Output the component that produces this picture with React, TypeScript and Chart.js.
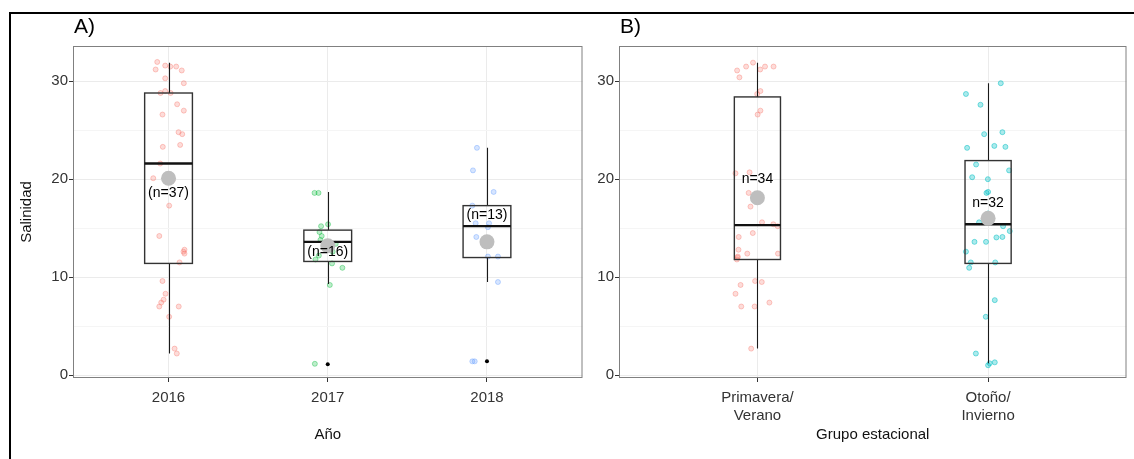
import { useEffect, useRef } from "react";
import { Chart, registerables } from "chart.js";

Chart.register(...registerables);

// ---- Año (panel A) ----
const yearCategories = ["2016", "2017", "2018"];

const salinity2016 = [31.97, 31.2, 31.6, 31.5, 31.5, 31.1, 30.3, 29.8, 28.8, 29.0, 28.8, 27.65, 27.0, 26.6, 24.8, 24.6, 23.3, 23.5, 21.6, 20.1, 17.3, 14.2, 12.8, 12.4, 11.5, 9.6, 8.3, 7.7, 7.4, 7.0, 7.0, 5.95, 2.7, 2.2, 20.3, 19.9, 12.6];
const jitter2016 = [-0.071, -0.081, -0.021, 0.011, 0.048, 0.083, -0.021, 0.096, -0.05, -0.021, 0.013, 0.054, 0.096, -0.038, 0.063, 0.086, -0.036, 0.073, -0.052, -0.096, 0.004, -0.058, 0.1, 0.1, 0.069, -0.038, -0.019, -0.031, -0.046, -0.058, 0.064, 0.004, 0.038, 0.052, 0.006, 0.025, 0.094];

const salinity2017 = [18.6, 18.6, 15.4, 15.2, 14.6, 14.2, 13.8, 11.8, 11.4, 10.95, 9.2, 1.15, 13.0, 12.6, 12.2, 13.4];
const jitter2017 = [-0.083, -0.058, 0.002, -0.042, -0.052, -0.038, -0.046, -0.077, 0.027, 0.092, 0.013, -0.081, -0.019, 0.031, -0.056, 0.05];

const salinity2018 = [23.2, 20.9, 18.7, 17.3, 15.5, 15.5, 15.1, 14.1, 12.1, 12.1, 9.5, 1.4, 1.4];
const jitter2018 = [-0.063, -0.088, 0.042, -0.092, -0.071, 0.013, 0.006, -0.067, 0.006, 0.069, 0.069, -0.092, -0.077];

const yearLow = [2.2, 9.3, 9.5];
const yearQ1 = [11.4, 11.6, 12.0];
const yearMedian = [21.6, 13.6, 15.2];
const yearQ3 = [28.8, 14.8, 17.3];
const yearHigh = [31.9, 18.7, 23.2];
const yearMean = [20.1, 13.2, 13.6];
const yearOutliers = [[], [1.1], [1.4]];
const yearCountLabels = ["(n=37)", "(n=16)", "(n=13)"];
const yearCountAt = [18.6, 12.55, 16.3];

// ---- Grupo estacional (panel B) ----
const seasonCategories = [["Primavera/", "Verano"], ["Otoño/", "Invierno"]];

const salinitySpring = [31.1, 31.5, 31.9, 31.2, 31.5, 31.5, 30.4, 28.7, 29.0, 27.0, 26.6, 20.6, 20.7, 18.6, 17.2, 15.6, 15.4, 15.2, 14.1, 14.5, 12.8, 12.4, 12.4, 12.1, 11.8, 9.6, 9.5, 9.2, 8.3, 7.0, 7.0, 7.4, 2.7, 12.0];
const jitterSpring = [-0.088, -0.049, -0.019, 0.012, 0.033, 0.07, -0.078, -0.001, 0.013, 0.013, 0.001, -0.095, -0.034, -0.038, -0.03, 0.02, 0.069, 0.088, -0.081, -0.02, -0.082, -0.044, 0.089, -0.085, -0.089, -0.01, 0.019, -0.073, -0.095, -0.07, -0.012, 0.052, -0.027, -0.086];

const salinityAutumn = [29.8, 28.7, 27.6, 24.8, 24.6, 23.2, 23.4, 23.3, 21.5, 20.9, 20.2, 20.0, 18.6, 18.7, 15.6, 15.2, 14.7, 14.05, 14.1, 13.6, 13.6, 12.6, 11.5, 10.95, 11.5, 7.65, 5.95, 2.2, 1.2, 1.3, 1.0, 16.5];
const jitterAutumn = [0.055, -0.096, -0.033, 0.062, -0.017, -0.091, 0.027, 0.075, -0.052, 0.091, -0.069, -0.001, -0.007, 0, -0.039, 0.065, 0.094, 0.036, 0.062, -0.059, -0.009, -0.096, -0.075, -0.082, 0.031, 0.029, -0.01, -0.053, 0.007, 0.029, 0, 0];

const seasonLow = [2.7, 1.2];
const seasonQ1 = [11.8, 11.4];
const seasonMedian = [15.3, 15.4];
const seasonQ3 = [28.4, 21.9];
const seasonHigh = [31.9, 29.8];
const seasonMean = [18.1, 16.0];
const seasonOutliers = [[], []];
const seasonCountLabels = ["n=34", "n=32"];
const seasonCountAt = [20.0, 17.6];

const yTicks = [0, 5, 10, 15, 20, 25, 30];

const FONT = "'Liberation Sans', Arial, Helvetica, sans-serif";

type Group = { values: number[]; jitter: number[]; color: string; fill: string };

type Panel = {
  letter: string;
  xTitle: string;
  categories: (string | string[])[];
  groups: Group[];
  low: number[];
  q1: number[];
  median: number[];
  q3: number[];
  high: number[];
  mean: number[];
  outliers: number[][];
  countLabels: string[];
  countAt: number[];
  boxWidth: number;
  yAxisWidth: number;
  showYTitle: boolean;
  width: number;
  plotRight: number;
};

const panelA: Panel = {
  letter: "A)",
  xTitle: "Año",
  categories: yearCategories,
  groups: [
    { values: salinity2016, jitter: jitter2016, color: "rgba(248,118,109,0.38)", fill: "rgba(248,118,109,0.26)" },
    { values: salinity2017, jitter: jitter2017, color: "rgba(0,186,56,0.38)", fill: "rgba(0,186,56,0.26)" },
    { values: salinity2018, jitter: jitter2018, color: "rgba(97,156,255,0.38)", fill: "rgba(97,156,255,0.26)" },
  ],
  low: yearLow,
  q1: yearQ1,
  median: yearMedian,
  q3: yearQ3,
  high: yearHigh,
  mean: yearMean,
  outliers: yearOutliers,
  countLabels: yearCountLabels,
  countAt: yearCountAt,
  boxWidth: 0.3,
  yAxisWidth: 73,
  showYTitle: true,
  width: 590,
  plotRight: 585,
};

const panelB: Panel = {
  letter: "B)",
  xTitle: "Grupo estacional",
  categories: seasonCategories,
  groups: [
    { values: salinitySpring, jitter: jitterSpring, color: "rgba(248,118,109,0.38)", fill: "rgba(248,118,109,0.26)" },
    { values: salinityAutumn, jitter: jitterAutumn, color: "rgba(0,191,196,0.5)", fill: "rgba(0,191,196,0.33)" },
  ],
  low: seasonLow,
  q1: seasonQ1,
  median: seasonMedian,
  q3: seasonQ3,
  high: seasonHigh,
  mean: seasonMean,
  outliers: seasonOutliers,
  countLabels: seasonCountLabels,
  countAt: seasonCountAt,
  boxWidth: 0.2,
  yAxisWidth: 29,
  showYTitle: false,
  width: 544,
  plotRight: 539,
};

const HEIGHT = 459;
const PLOT_TOP = 46;
const PLOT_BOTTOM = 378;

function buildChart(canvas: HTMLCanvasElement, p: Panel) {
  const jitterPoints: { x: number; y: number }[] = [];
  const pointBorder: string[] = [];
  const pointFill: string[] = [];
  p.groups.forEach((g, i) => {
    g.values.forEach((v, j) => {
      jitterPoints.push({ x: i + 1 + g.jitter[j], y: v });
      pointBorder.push(g.color);
      pointFill.push(g.fill);
    });
  });
  const meanPoints = p.mean.map((m, i) => ({ x: i + 1, y: m }));
  const outlierPoints: { x: number; y: number }[] = [];
  p.outliers.forEach((list, i) => list.forEach((v) => outlierPoints.push({ x: i + 1, y: v })));

  const boxPlugin = {
    id: "boxes",
    beforeDatasetsDraw(chart: any) {
      const { ctx, chartArea } = chart;
      ctx.save();
      ctx.strokeStyle = "#808080";
      ctx.lineWidth = 1;
      ctx.strokeRect(chartArea.left + 0.5, chartArea.top + 0.5, chartArea.right - chartArea.left - 1, chartArea.bottom - chartArea.top - 1);
      ctx.restore();
    },
    afterDatasetDraw(chart: any, args: any) {
      if (args.index !== 0) return;
      const { ctx } = chart;
      const xs = chart.scales.x;
      const ys = chart.scales.y;
      ctx.save();
      p.mean.forEach((_, i) => {
        const cx = Math.round(xs.getPixelForValue(i + 1)) + 0.5;
        const x0 = xs.getPixelForValue(i + 1 - p.boxWidth / 2);
        const x1 = xs.getPixelForValue(i + 1 + p.boxWidth / 2);
        const yLow = ys.getPixelForValue(p.low[i]);
        const yQ1 = ys.getPixelForValue(p.q1[i]);
        const yMed = ys.getPixelForValue(p.median[i]);
        const yQ3 = ys.getPixelForValue(p.q3[i]);
        const yHigh = ys.getPixelForValue(p.high[i]);
        ctx.strokeStyle = "#1a1a1a";
        ctx.lineWidth = 1.1;
        ctx.beginPath();
        ctx.moveTo(cx, yQ3);
        ctx.lineTo(cx, yHigh);
        ctx.moveTo(cx, yQ1);
        ctx.lineTo(cx, yLow);
        ctx.stroke();
        ctx.strokeStyle = "#333333";
        ctx.lineWidth = 1.4;
        ctx.strokeRect(x0, yQ3, x1 - x0, yQ1 - yQ3);
        ctx.strokeStyle = "#111111";
        ctx.lineWidth = 2.3;
        ctx.beginPath();
        ctx.moveTo(x0, yMed);
        ctx.lineTo(x1, yMed);
        ctx.stroke();
      });
      ctx.restore();
    },
    afterDatasetsDraw(chart: any) {
      const { ctx, chartArea } = chart;
      const xs = chart.scales.x;
      const ys = chart.scales.y;
      ctx.save();
      ctx.fillStyle = "#000";
      ctx.font = `14px ${FONT}`;
      ctx.textAlign = "center";
      ctx.textBaseline = "middle";
      p.countLabels.forEach((t, i) => {
        ctx.fillText(t, xs.getPixelForValue(i + 1), ys.getPixelForValue(p.countAt[i]));
      });
      // axis titles and panel letter
      ctx.font = `15px ${FONT}`;
      ctx.fillStyle = "#111";
      ctx.fillText(p.xTitle, (chartArea.left + chartArea.right) / 2, 435);
      if (p.showYTitle) {
        ctx.save();
        ctx.translate(27, (chartArea.top + chartArea.bottom) / 2);
        ctx.rotate(-Math.PI / 2);
        ctx.fillText("Salinidad", 0, 0);
        ctx.restore();
      }
      ctx.font = `21px ${FONT}`;
      ctx.textAlign = "left";
      ctx.textBaseline = "alphabetic";
      ctx.fillStyle = "#000";
      ctx.fillText(p.letter, chartArea.left + 1, 33);
      ctx.restore();
    },
  };

  const padding = { top: PLOT_TOP, right: p.width - p.plotRight, left: 0, bottom: 0 };

  const chart = new Chart(canvas, {
    type: "scatter",
    data: {
      datasets: [
        {
          data: jitterPoints,
          pointRadius: 2.5,
          pointBorderWidth: 1,
          pointBorderColor: pointBorder,
          pointBackgroundColor: pointFill,
          order: 3,
        },
        {
          data: meanPoints,
          pointRadius: 7.5,
          pointBorderWidth: 0,
          pointBackgroundColor: "#bebebe",
          order: 1,
        },
        {
          data: outlierPoints,
          pointRadius: 2,
          pointBorderWidth: 0,
          pointBackgroundColor: "#000",
          order: 0,
        },
      ],
    },
    options: {
      animation: false,
      responsive: false,
      devicePixelRatio: 1,
      events: [],
      layout: { padding },
      plugins: { legend: { display: false }, tooltip: { enabled: false } },
      scales: {
        x: {
          type: "linear",
          min: 0.4,
          max: p.categories.length + 0.6,
          border: { display: false },
          afterBuildTicks: (scale: any) => {
            scale.ticks = p.categories.map((_, i) => ({ value: i + 1 }));
          },
          afterFit: (scale: any) => {
            scale.height = HEIGHT - PLOT_BOTTOM;
            scale.paddingLeft = 0;
            scale.paddingRight = 0;
          },
          grid: {
            color: "#ebebeb",
            lineWidth: 1,
            tickLength: 4,
            tickColor: "#333",
          },
          ticks: {
            autoSkip: false,
            maxRotation: 0,
            padding: 7,
            color: "#333",
            font: { family: FONT, size: 15, lineHeight: 1.2 },
            callback: (v: any) => p.categories[Math.round(Number(v)) - 1] as any,
          },
        },
        y: {
          type: "linear",
          min: -0.3,
          max: 33.6,
          border: { display: false },
          afterBuildTicks: (scale: any) => {
            scale.ticks = yTicks.map((v) => ({ value: v }));
          },
          afterFit: (scale: any) => {
            scale.width = p.yAxisWidth;
            scale.paddingTop = 0;
            scale.paddingBottom = 0;
          },
          grid: {
            color: (c: any) => (c.tick && c.tick.value % 10 === 0 ? "#ebebeb" : "#f5f5f5"),
            lineWidth: 1,
            tickLength: 4,
            tickColor: (c: any) => (c.tick && c.tick.value % 10 === 0 ? "#333" : "rgba(0,0,0,0)"),
          },
          ticks: {
            padding: 1,
            color: "#333",
            font: { family: FONT, size: 15 },
            callback: (v: any) => (Number(v) % 10 === 0 ? String(v) : ""),
          },
        },
      },
    } as any,
    plugins: [boxPlugin],
  });

  // settle the plot area onto the intended edges
  const area = chart.chartArea;
  const dRight = p.plotRight - area.right;
  const dLeft = p.yAxisWidth - area.left;
  const dTop = PLOT_TOP - area.top;
  const dBottom = PLOT_BOTTOM - area.bottom;
  if (Math.abs(dRight) > 0.25 || Math.abs(dLeft) > 0.25 || Math.abs(dTop) > 0.25 || Math.abs(dBottom) > 0.25) {
    const opts: any = chart.options;
    opts.layout.padding = {
      top: padding.top + dTop,
      right: padding.right - dRight,
      left: padding.left + dLeft,
      bottom: padding.bottom - dBottom,
    };
    chart.update();
  }
  return chart;
}

function PanelCanvas({ panel, left }: { panel: Panel; left: number }) {
  const ref = useRef<HTMLCanvasElement | null>(null);
  useEffect(() => {
    if (!ref.current) return;
    const chart = buildChart(ref.current, panel);
    return () => chart.destroy();
  }, [panel]);
  return (
    <canvas
      ref={ref}
      width={panel.width}
      height={HEIGHT}
      style={{ position: "absolute", left, top: 0, width: panel.width, height: HEIGHT }}
    />
  );
}

export default function App() {
  return (
    <div
      style={{
        position: "fixed",
        left: 0,
        top: 0,
        width: 1134,
        height: HEIGHT,
        overflow: "hidden",
        background: "#fff",
      }}
    >
      <div
        style={{
          position: "absolute",
          left: 9,
          top: 12,
          width: 1300,
          height: 700,
          border: "2px solid #000",
        }}
      />
      <PanelCanvas panel={panelA} left={0} />
      <PanelCanvas panel={panelB} left={590} />
    </div>
  );
}
